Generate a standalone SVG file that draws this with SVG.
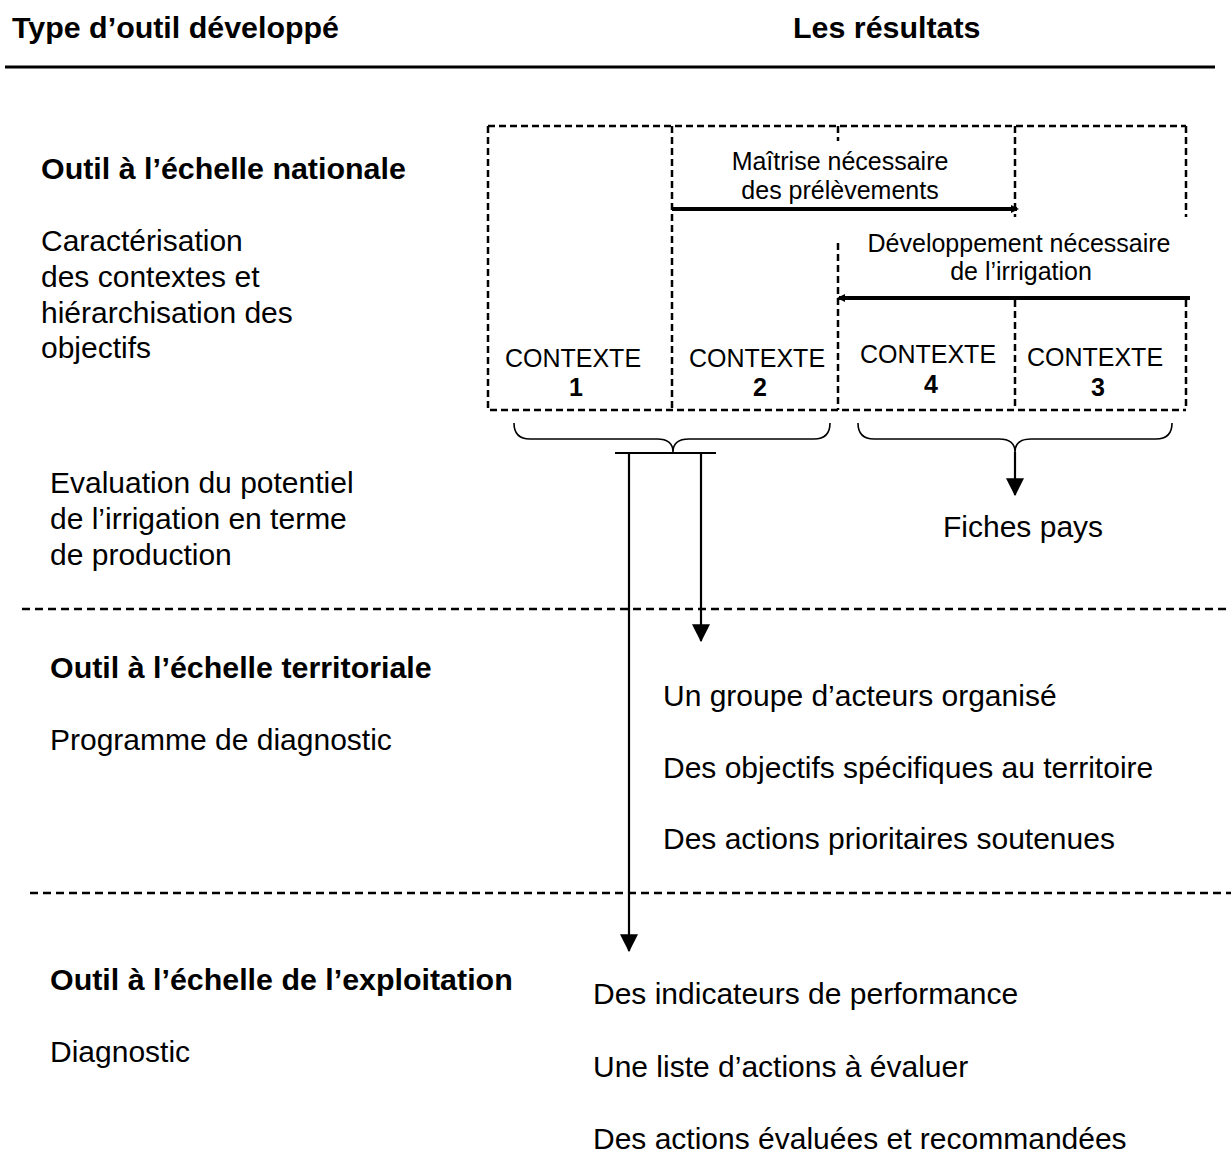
<svg xmlns="http://www.w3.org/2000/svg" width="1231" height="1153" viewBox="0 0 1231 1153">
<style>
text{font-family:"Liberation Sans",Arial,sans-serif;fill:#000;font-size:30px}
.b{font-weight:bold;font-size:30.4px}
.m{text-anchor:middle}
.s{font-size:25px}
.sb{font-size:25px;font-weight:bold}
.dash{fill:none;stroke:#000;stroke-width:2.5;stroke-dasharray:7 4}
.sep{fill:none;stroke:#000;stroke-width:2.5;stroke-dasharray:8 5}
.ln{fill:none;stroke:#000;stroke-width:2.2}
.thick{fill:none;stroke:#000;stroke-width:4}
.brace{fill:none;stroke:#000;stroke-width:1.6}
</style>
<defs>
<marker id="arr" markerUnits="userSpaceOnUse" markerWidth="18" markerHeight="18" viewBox="0 0 16 16" refX="15" refY="8" orient="auto">
<path d="M0,0 L16,8 L0,16 Z" fill="#000"/>
</marker>
<marker id="tip" markerUnits="userSpaceOnUse" markerWidth="8" markerHeight="8" viewBox="0 0 8 8" refX="6" refY="4" orient="auto">
<path d="M0,0 L8,4 L0,8 Z" fill="#000"/>
</marker>
</defs>
<rect width="1231" height="1153" fill="#fff"/>

<g id="header">
<text class="b" x="12" y="38">Type d’outil développé</text>
<text class="b" x="793" y="38">Les résultats</text>
<line x1="5" y1="67" x2="1215" y2="67" stroke="#000" stroke-width="3"/>
</g>

<g id="separators">
<line class="sep" x1="22" y1="609" x2="1231" y2="609"/>
<line class="sep" x1="30" y1="893" x2="1231" y2="893"/>
</g>

<g id="national">
<text class="b" x="41" y="179">Outil à l’échelle nationale</text>
<text x="41" y="251">Caractérisation</text>
<text x="41" y="287">des contextes et</text>
<text x="41" y="323">hiérarchisation des</text>
<text x="41" y="358">objectifs</text>
<text x="50" y="493">Evaluation du potentiel</text>
<text x="50" y="529">de l’irrigation en terme</text>
<text x="50" y="565">de production</text>
</g>

<g id="contexts">
<path class="dash" d="M488,126 H1186 M488,126 V410 H1186 M672,126 V410 M838,126 V141 M838,243 V410 M1015,126 V217 M1015,300 V410 M1186,126 V217 M1186,300 V410"/>
<text class="s m" x="573" y="367">CONTEXTE</text>
<text class="sb m" x="576" y="396">1</text>
<text class="s m" x="757" y="367">CONTEXTE</text>
<text class="sb m" x="760" y="396">2</text>
<text class="s m" x="928" y="363">CONTEXTE</text>
<text class="sb m" x="931" y="393">4</text>
<text class="s m" x="1095" y="366">CONTEXTE</text>
<text class="sb m" x="1098" y="396">3</text>
</g>

<g id="maitrise">
<text class="s m" x="840" y="170">Maîtrise nécessaire</text>
<text class="s m" x="840" y="199">des prélèvements</text>
</g>

<g id="developpement">
<text class="s m" x="1019" y="252">Développement nécessaire</text>
<text class="s m" x="1021" y="280">de l’irrigation</text>
</g>

<g id="fiches">
<text x="943" y="537">Fiches pays</text>
</g>

<g id="territorial">
<text class="b" x="50" y="678">Outil à l’échelle territoriale</text>
<text x="50" y="750">Programme de diagnostic</text>
<text x="663" y="706">Un groupe d’acteurs organisé</text>
<text x="663" y="778">Des objectifs spécifiques au territoire</text>
<text x="663" y="849">Des actions prioritaires soutenues</text>
</g>

<g id="exploitation">
<text class="b" x="50" y="990">Outil à l’échelle de l’exploitation</text>
<text x="50" y="1062">Diagnostic</text>
<text x="593" y="1004">Des indicateurs de performance</text>
<text x="593" y="1077">Une liste d’actions à évaluer</text>
<text x="593" y="1149">Des actions évaluées et recommandées</text>
</g>

<g id="connectors">
<line class="thick" x1="672" y1="209" x2="1017" y2="209" marker-end="url(#tip)"/>
<line class="thick" x1="1190" y1="298" x2="839" y2="298" marker-end="url(#tip)"/>
<path class="brace" d="M514,423 Q514,439 530,439 L657,439 Q673,439 673,452 Q673,439 689,439 L814,439 Q830,439 830,423"/>
<path class="brace" d="M858,423 Q858,439 874,439 L999,439 Q1015,439 1015,452 Q1015,439 1031,439 L1156,439 Q1172,439 1172,423"/>
<line class="ln" x1="1015" y1="452" x2="1015" y2="495" marker-end="url(#arr)"/>
<line class="ln" x1="615" y1="453" x2="716" y2="453"/>
<line class="ln" x1="701" y1="453" x2="701" y2="641" marker-end="url(#arr)"/>
<line class="ln" x1="629" y1="453" x2="629" y2="951" marker-end="url(#arr)"/>
</g>
</svg>
